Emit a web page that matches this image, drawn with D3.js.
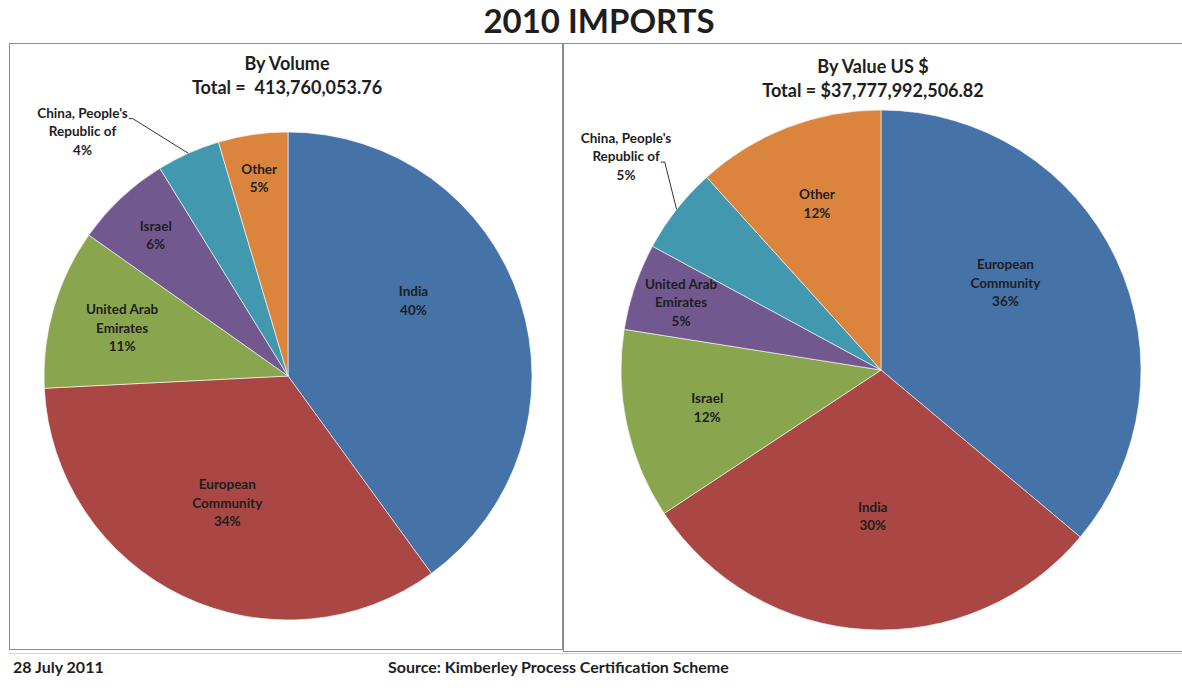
<!DOCTYPE html>
<html>
<head>
<meta charset="utf-8">
<script src="https://cdn.jsdelivr.net/npm/d3@7"></script>
<style>
  body { margin: 0; background: #fff; }
  text { font-family: Lato, 'Open Sans', sans-serif; font-weight: bold; fill: #1e1e1e; }
</style>
</head>
<body>
<svg></svg>
<script>
// shares in percent
const volumeCategories = ['India', 'European Community', 'United Arab Emirates', 'Israel', "China, People's Republic of", 'Other'];
const volumeShares = [40.0, 34.2, 10.6, 6.4, 4.2, 4.6];

const valueCategories = ['European Community', 'India', 'Israel', 'United Arab Emirates', "China, People's Republic of", 'Other'];
const valueShares = [36.1, 29.6, 11.8, 5.4, 5.4, 11.7];

const sliceColors = ['#4572A7', '#AA4643', '#89A54E', '#71588F', '#4198AF', '#DB843D'];

const W = 1182, H = 695;

const svg = d3.select('svg')
    .attr('width', W)
    .attr('height', H);

svg.append('text')
    .attr('x', 599)
    .attr('y', 33)
    .attr('text-anchor', 'middle')
    .style('font-size', '33px')
    .text('2010 IMPORTS');

// panel frames
svg.append('rect')
    .attr('x', 9.5).attr('y', 43.5)
    .attr('width', 553).attr('height', 606)
    .attr('fill', 'none').attr('stroke', '#8c8c8c');

svg.append('rect')
    .attr('x', 563.5).attr('y', 43.5)
    .attr('width', 640).attr('height', 608)
    .attr('fill', 'none').attr('stroke', '#8c8c8c');

svg.append('line')
    .attr('x1', 9).attr('x2', W)
    .attr('y1', 653.5).attr('y2', 653.5)
    .attr('stroke', '#d4d4d4');

svg.append('text')
    .attr('x', 13).attr('y', 673)
    .style('font-size', '16px')
    .text('28 July 2011');

svg.append('text')
    .attr('x', 388).attr('y', 673)
    .style('font-size', '16px')
    .text('Source: Kimberley Process Certification Scheme');

const pct = d3.format('.0%');

// small slices sit further out, like excel's best fit
const labelRadius = d3.scaleLinear()
    .domain([5, 12, 30, 40])
    .range([0.82, 0.68, 0.56, 0.6])
    .clamp(true);

function wrap(name) {
    const words = name.split(' ');
    const lines = [words[0]];
    for (let i = 1; i < words.length; i++) {
        const last = lines[lines.length - 1];
        if ((last + ' ' + words[i]).length > 15) lines.push(words[i]);
        else lines[lines.length - 1] = last + ' ' + words[i];
    }
    return lines;
}

function drawPie(cfg, categories, shares) {
    const g = svg.append('g')
        .attr('transform', `translate(${cfg.cx}, ${cfg.cy})`);

    svg.append('text')
        .attr('x', cfg.titleX).attr('y', cfg.titleY)
        .attr('text-anchor', 'middle')
        .style('font-size', '18px')
        .text(cfg.title);

    svg.append('text')
        .attr('x', cfg.titleX).attr('y', cfg.titleY + 24)
        .attr('text-anchor', 'middle')
        .attr('xml:space', 'preserve')
        .style('font-size', '18px')
        .text(cfg.total);

    const total = d3.sum(shares);
    const arcs = d3.pie().sort(null)(shares);
    const arc = d3.arc().innerRadius(0).outerRadius(cfg.r);

    g.selectAll('path')
        .data(arcs)
        .join('path')
        .attr('d', arc)
        .attr('fill', (d, i) => sliceColors[i])
        .attr('stroke', '#fff')
        .attr('stroke-width', 0.6);

    const lineH = 18.5;

    arcs.forEach((d, i) => {
        const lines = wrap(categories[i]).concat(pct(shares[i] / total));
        const mid = (d.startAngle + d.endAngle) / 2;
        let x, y;
        if (i === cfg.callout) {
            x = Math.sin(cfg.calloutAngle) * cfg.r * cfg.calloutRadius;
            y = -Math.cos(cfg.calloutAngle) * cfg.r * cfg.calloutRadius;
        } else {
            const lr = labelRadius(shares[i]) * cfg.r;
            const a = mid + (i === 0 ? cfg.leadShift : 0);
            x = Math.sin(a) * lr;
            y = -Math.cos(a) * lr;
        }
        const top = y - (lines.length - 1) * lineH / 2;
        const t = g.append('text')
            .attr('text-anchor', 'middle')
            .style('font-size', '13.5px');
        lines.forEach((s, k) => {
            t.append('tspan')
                .attr('x', x)
                .attr('y', top + k * lineH + 5)
                .text(s);
        });

        if (i === cfg.callout) {
            const k = cfg.leaderLine;
            const w = t.selectAll('tspan').nodes()[k].getComputedTextLength();
            const ly = top + k * lineH + 6;
            const ex = Math.sin(mid) * cfg.r, ey = -Math.cos(mid) * cfg.r;
            g.append('path')
                .attr('d', d3.line()([[x + w / 2 + 1, ly], [x + w / 2 + 5, ly], [ex, ey]]))
                .attr('fill', 'none')
                .attr('stroke', '#333')
                .attr('stroke-width', 1);
        }
    });
}

drawPie({
    cx: 288, cy: 376, r: 244,
    titleX: 287, titleY: 70,
    title: 'By Volume', total: 'Total =  413,760,053.76',
    leadShift: -13 * Math.PI / 180,
    callout: 4, calloutAngle: 320 * Math.PI / 180, calloutRadius: 1.31, leaderLine: 0
}, volumeCategories, volumeShares);

drawPie({
    cx: 881, cy: 370, r: 260,
    titleX: 873, titleY: 73,
    title: 'By Value US $', total: 'Total = $37,777,992,506.82',
    leadShift: -10 * Math.PI / 180,
    callout: 4, calloutAngle: 310 * Math.PI / 180, calloutRadius: 1.28, leaderLine: 1
}, valueCategories, valueShares);
</script>
</body>
</html>
